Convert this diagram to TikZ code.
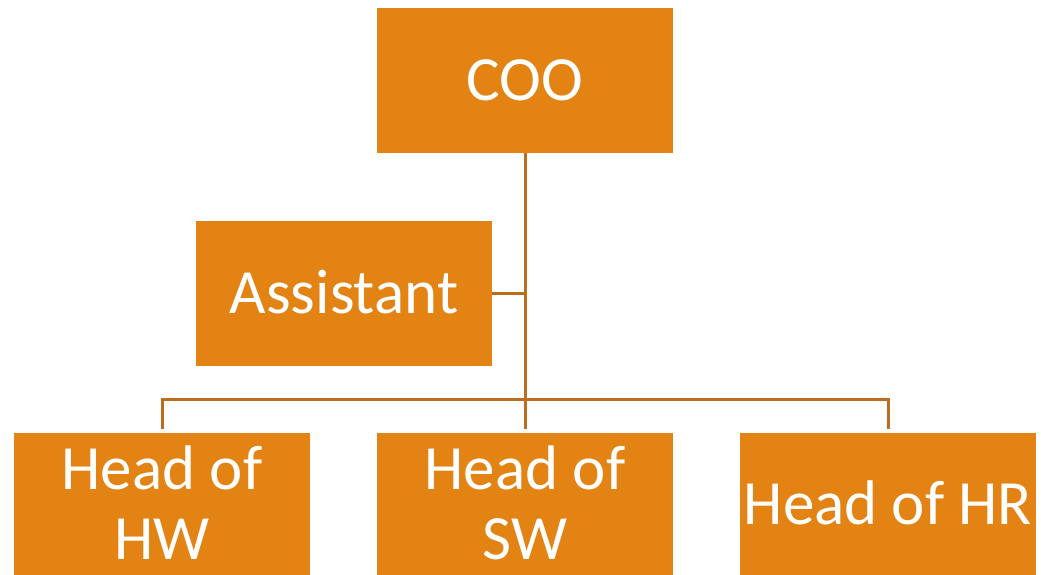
\documentclass[tikz,border=0pt]{standalone}
\usepackage{fontspec}
\setmainfont{Carlito}
\definecolor{boxfill}{HTML}{E38314}
\definecolor{linecol}{HTML}{BC6C1E}
\begin{document}
\begin{tikzpicture}[x=1pt,y=1pt,
  orgbox/.style={rectangle, fill=boxfill, draw=none, minimum width=296pt, minimum height=145pt, inner sep=0pt},
  lowbox/.style={orgbox, minimum height=142pt},
  txt/.style={text=white, font=\fontsize{63}{70}\selectfont, inner sep=0pt, anchor=base},
  conn/.style={draw=linecol, line width=3pt}]
\useasboundingbox (0,0) rectangle (1041,575);
\node[orgbox] (coo) at (525,494.5) {};
\node[orgbox] (asst) at (344,281.5) {};
\node[lowbox] (hw) at (162,71) {};
\node[lowbox] (sw) at (525,71) {};
\node[lowbox] (hr) at (888,71) {};
\node[txt] (tcoo) at ([yshift=-20.5pt]coo.center) {COO};
\node[txt] (tasst) at ([yshift=-20.5pt]asst.center) {Assistant};
\node[txt] (thw1) at ([yshift=14.5pt]hw.center) {Head of};
\node[txt] (thw2) at ([yshift=-55.5pt]hw.center) {HW};
\node[txt] (tsw1) at ([yshift=14.5pt]sw.center) {Head of};
\node[txt] (tsw2) at ([yshift=-55.5pt]sw.center) {SW};
\node[txt] (thr) at ([yshift=-20.5pt]hr.center) {Head of HR};
\coordinate (bar) at (0,175);
\draw[conn] (coo.south) -- ([yshift=4pt]sw.north);
\draw[conn] (asst.east) -- (asst.east -| coo.south);
\draw[conn] ([yshift=4pt]hw.north) -- (hw.north |- bar) -- (hr.north |- bar) -- ([yshift=4pt]hr.north);
\end{tikzpicture}
\end{document}
